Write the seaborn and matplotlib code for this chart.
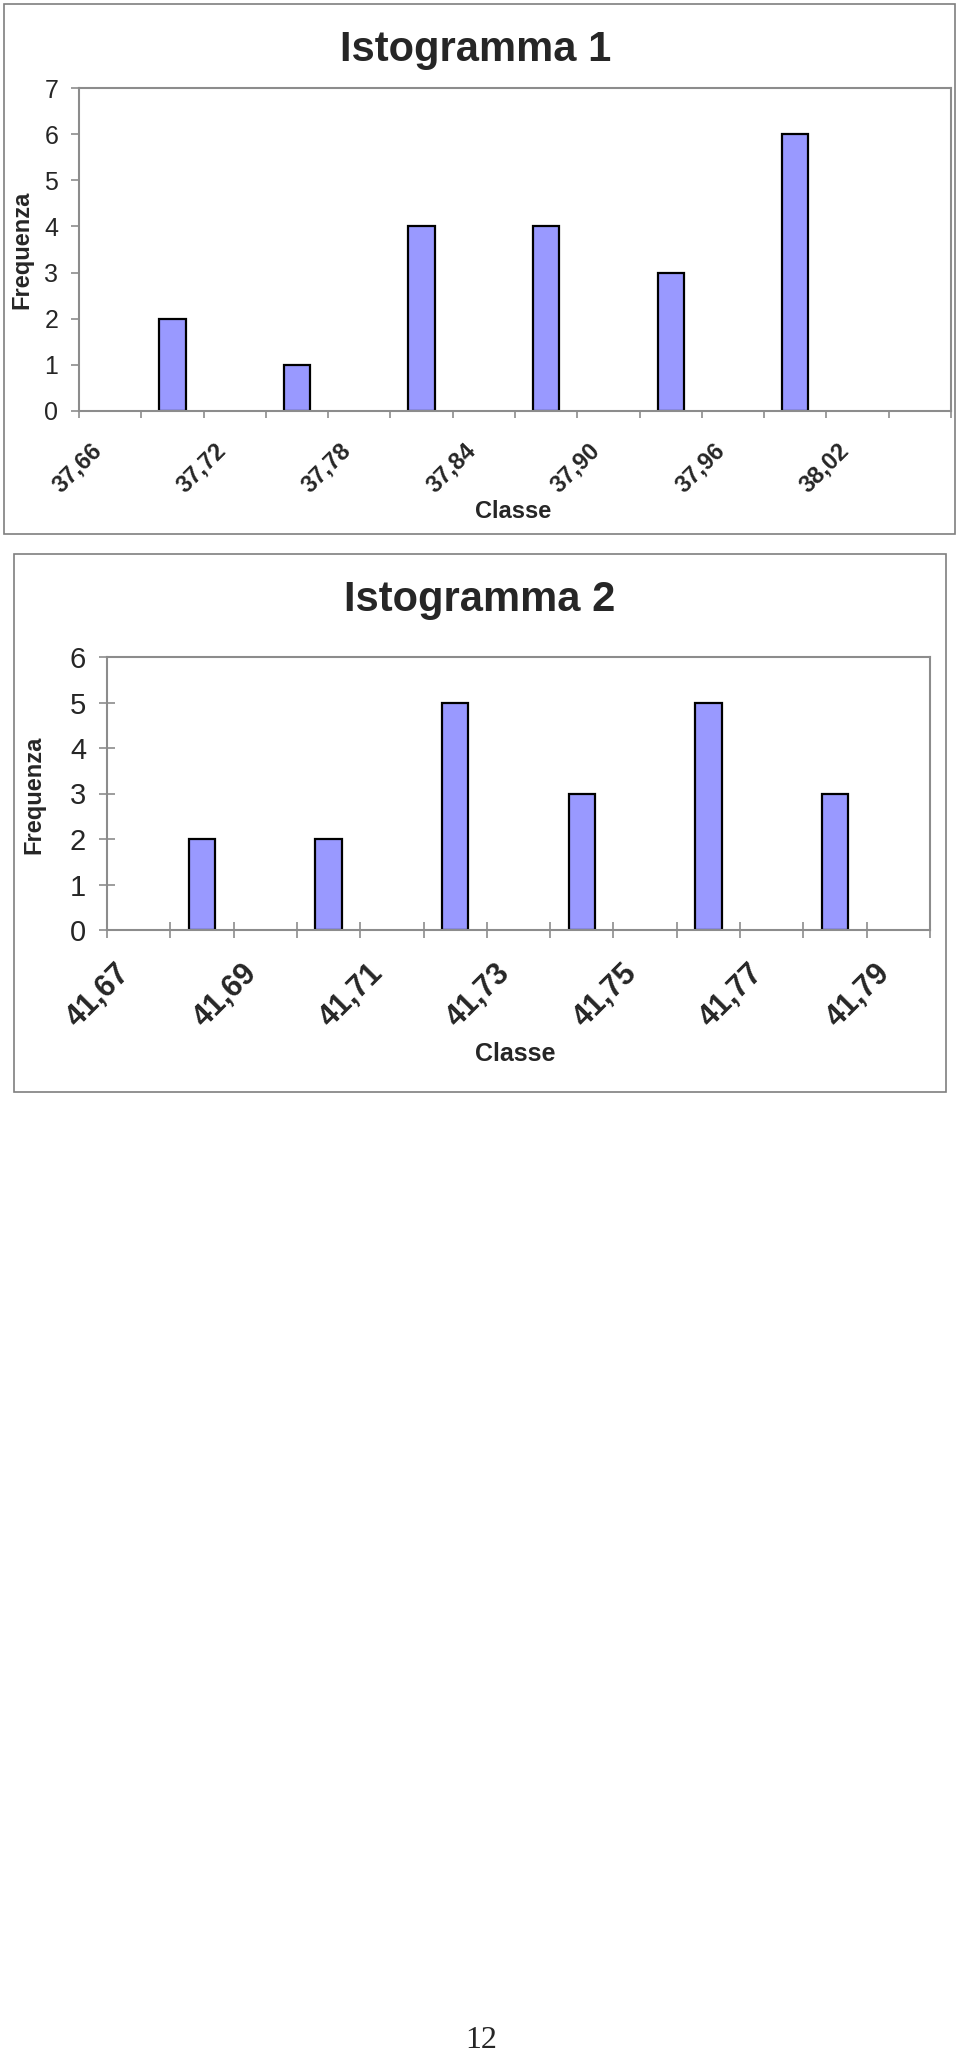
import numpy as np
import pandas as pd
import matplotlib
matplotlib.use("Agg")
import matplotlib.pyplot as plt
import matplotlib.transforms as mtransforms
from matplotlib.patches import Rectangle
import seaborn as sns

# ---- data ----
classi1 = ['37,66', '37,69', '37,72', '37,75', '37,78', '37,81', '37,84',
           '37,87', '37,90', '37,93', '37,96', '37,99', '38,02', '38,05']
freq1 = [0, 2, 0, 1, 0, 4, 0, 4, 0, 3, 0, 6, 0, 0]

classi2 = ['41,67', '41,68', '41,69', '41,70', '41,71', '41,72', '41,73',
           '41,74', '41,75', '41,76', '41,77', '41,78', '41,79']
freq2 = [0, 2, 0, 2, 0, 5, 0, 3, 0, 5, 0, 3, 0]

titoli = ['Istogramma 1', 'Istogramma 2']
ylabel = 'Frequenza'
xlabel = 'Classe'
pagina = '12'

sns.set_style('white')
plt.rcParams['font.family'] = ['Liberation Sans', 'DejaVu Sans']

W, H = 960, 2055
fig = plt.figure(figsize=(W / 100, H / 100), dpi=100)
fig.patch.set_facecolor('white')


def fx(x):
    return x / W


def fy(y):
    return 1 - y / H


def box(x0, y0, x1, y1):
    fig.add_artist(Rectangle((fx(x0), fy(y1)), fx(x1) - fx(x0), fy(y0) - fy(y1),
                             transform=fig.transFigure, fill=False,
                             edgecolor='#7f7f7f', linewidth=1.2))


def chart(classi, freq, rect, ymax, ytick_dir, ytick_len, xtick_dir, xtick_len,
          xfs, yfs, xoff, xpad, title, tpos, fpos, cpos, lfs, cfs):
    left, top, right, bottom = rect
    ax = fig.add_axes([fx(left), fy(bottom), fx(right) - fx(left), fy(top) - fy(bottom)])
    df = pd.DataFrame({'classe': classi, 'freq': freq})
    df = df[df['freq'] > 0]
    sns.barplot(data=df, x='classe', y='freq', order=classi, color='#9999FF',
                saturation=1, edgecolor='black', linewidth=1.6, width=0.42, ax=ax)
    n = len(classi)
    ax.set_xlim(-0.5, n - 0.5)
    ax.set_ylim(0, ymax)
    ax.set_xlabel('')
    ax.set_ylabel('')
    ax.set_yticks(range(0, ymax + 1))
    ax.set_yticklabels([str(v) for v in range(0, ymax + 1)], fontsize=yfs)
    ax.set_xticks(range(0, n, 2))
    ax.set_xticks(np.arange(-0.5, n, 1), minor=True)
    ax.tick_params(axis='x', which='major', length=0, pad=xpad)
    ax.tick_params(axis='x', which='minor', length=xtick_len, direction=xtick_dir,
                   color='#8c8c8c', width=1.2, bottom=True)
    ax.tick_params(axis='y', which='major', length=ytick_len, direction=ytick_dir,
                   color='#8c8c8c', width=1.2, left=True, pad=9)
    labs = ax.set_xticklabels(classi[::2], rotation=45, ha='right', va='center',
                              rotation_mode='anchor', fontsize=xfs, fontweight='bold')
    off = mtransforms.ScaledTranslation(xoff / 100, 0, fig.dpi_scale_trans)
    for t in labs:
        t.set_transform(t.get_transform() + off)
    for s in ax.spines.values():
        s.set_visible(True)
        s.set_color('#8c8c8c')
        s.set_linewidth(1.5)
    ax.set_facecolor('white')
    fig.text(fx(tpos[0]), fy(tpos[1]), title, ha='center', va='center',
             fontsize=30, fontweight='bold')
    fig.text(fx(fpos[0]), fy(fpos[1]), ylabel, ha='center', va='center',
             rotation=90, fontsize=lfs, fontweight='bold')
    fig.text(fx(cpos[0]), fy(cpos[1]), xlabel, ha='center', va='center',
             fontsize=cfs, fontweight='bold')
    return ax


box(4, 4, 955, 534)
chart(classi1, freq1, (79, 88, 951, 411), 7, 'out', 6, 'out', 5, 17, 18, -12, 26,
      titoli[0], (476, 50), (22, 250), (513, 512), 17, 17)

box(14, 554, 946, 1092)
chart(classi2, freq2, (107, 657, 930, 930), 6, 'inout', 12, 'inout', 11, 22, 21, -13, 28,
      titoli[1], (480, 600), (34, 795), (515, 1054), 17, 18)

fig.text(fx(481), fy(2041), pagina, ha='center', va='center', fontsize=23,
         family=['Liberation Serif', 'DejaVu Serif'])

fig.savefig('out.png', dpi=100, facecolor='white')
